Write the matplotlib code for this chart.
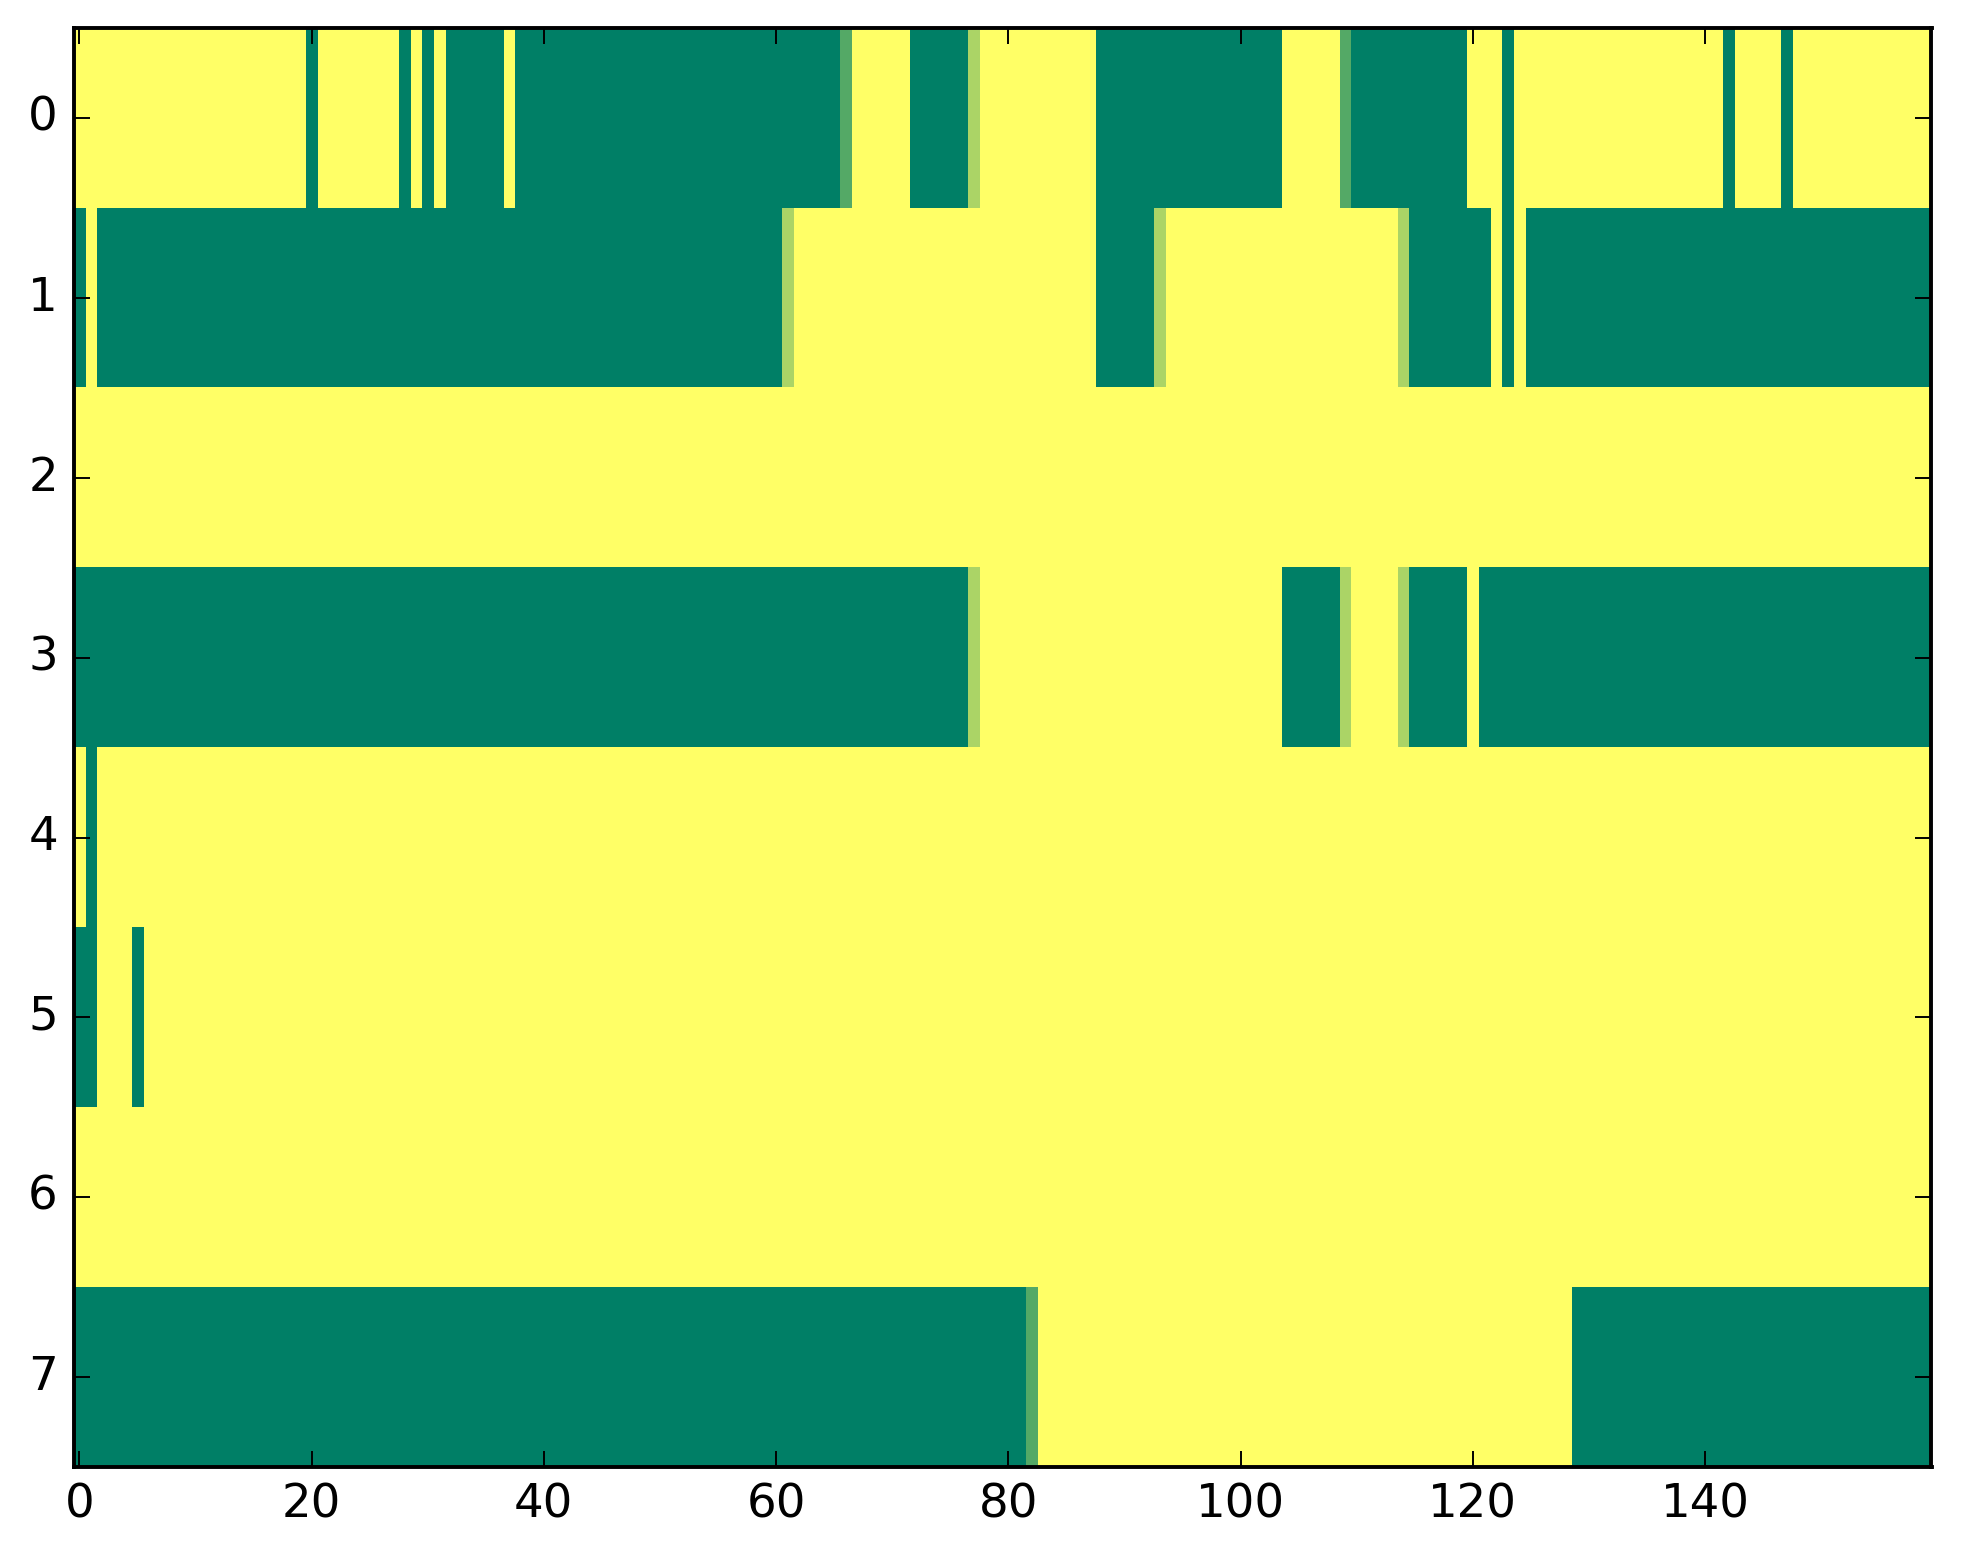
import numpy as np
import matplotlib
matplotlib.use('Agg')
import matplotlib.pyplot as plt

# each row of the matrix as (value, run length) pairs, read left to right
# 0 = dark green, 1 = yellow, in between = blended columns
row0 = [(1, 20), (0, 1), (1, 7), (0, 1), (1, 1), (0, 1), (1, 1), (0, 5), (1, 1),
        (0, 28), (0.33, 1), (1, 5), (0, 5), (0.67, 1), (1, 10), (0, 16), (1, 5),
        (0.33, 1), (0, 10), (1, 3), (0, 1), (1, 18), (0, 1), (1, 4), (0, 1), (1, 12)]
row1 = [(0, 1), (1, 1), (0, 59), (0.67, 1), (1, 26), (0, 5), (0.67, 1), (1, 20),
        (0.67, 1), (0, 7), (1, 1), (0, 1), (1, 1), (0, 35)]
row2 = [(1, 160)]
row3 = [(0, 77), (0.67, 1), (1, 26), (0, 5), (0.67, 1), (1, 4), (0.67, 1), (0, 5),
        (1, 1), (0, 39)]
row4 = [(1, 1), (0, 1), (1, 158)]
row5 = [(0, 2), (1, 3), (0, 1), (1, 154)]
row6 = [(1, 160)]
row7 = [(0, 82), (0.33, 1), (1, 46), (0, 31)]

rows = [row0, row1, row2, row3, row4, row5, row6, row7]


def expand(runs):
    out = []
    for v, n in runs:
        out += [v] * n
    return out


data = np.array([expand(r) for r in rows], dtype=float)

plt.style.use('classic')
plt.rcParams['font.family'] = 'DejaVu Sans'

fig = plt.figure(figsize=(1963 / 280, 1564 / 280), dpi=280)
ax = fig.add_axes([73.5 / 1963, (1564 - 1467) / 1564,
                   (1931.5 - 73.5) / 1963, (1467 - 28.5) / 1564])
ax.imshow(data, cmap='summer', vmin=0, vmax=1, aspect='auto',
          interpolation='nearest')
ax.set_xticks(np.arange(0, 160, 20))
ax.set_yticks(np.arange(0, 8, 1))
ax.tick_params(labelsize=12)

fig.savefig('out.png', dpi=280)
